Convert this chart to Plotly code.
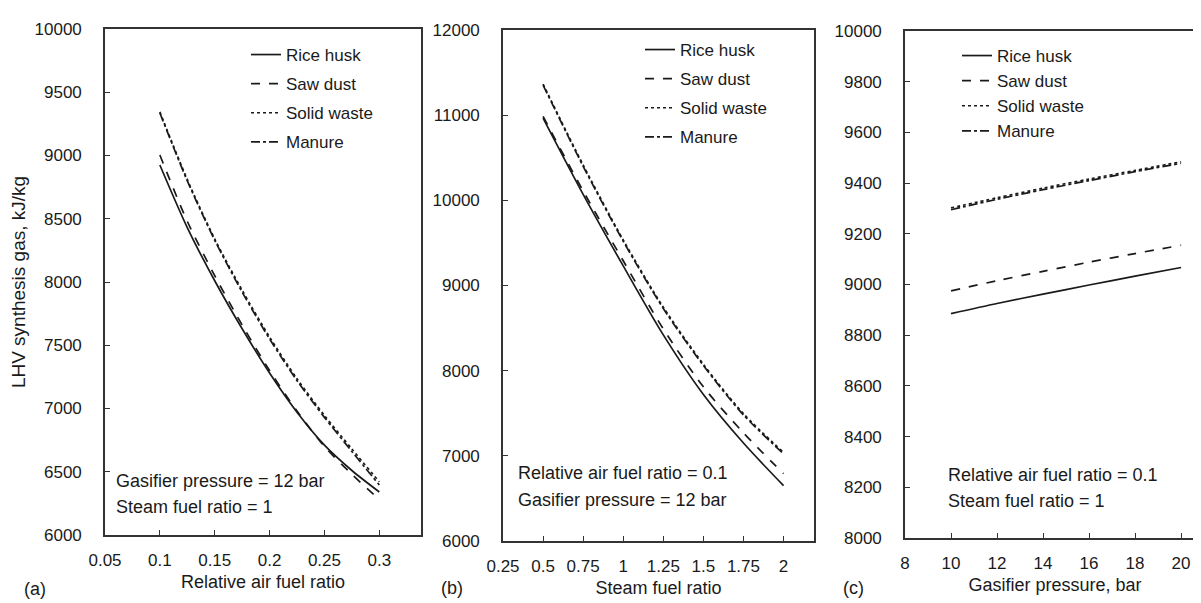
import plotly.graph_objects as go

W, H = 1201, 603
FONT = "Liberation Sans, Arial, sans-serif"
INK = "#1a1a1a"

series_names = ["Rice husk", "Saw dust", "Solid waste", "Manure"]
dash_styles = ["solid", "dash", "dot", "dashdot"]

# Panel (a): LHV vs relative air fuel ratio
air_ratio = [0.1, 0.125, 0.15, 0.175, 0.2, 0.225, 0.25, 0.275, 0.3]
a_rice = [8925, 8430, 8010, 7630, 7280, 6970, 6710, 6510, 6340]
a_saw = [9004, 8480, 8050, 7660, 7300, 6980, 6700, 6480, 6280]
a_solid = [9345, 8810, 8340, 7935, 7565, 7235, 6945, 6680, 6420]
a_manure = [9336, 8800, 8330, 7920, 7550, 7220, 6930, 6660, 6395]

# Panel (b): LHV vs steam fuel ratio
steam_ratio = [0.5, 0.75, 1.0, 1.25, 1.5, 1.75, 2.0]
b_rice = [10965, 10070, 9230, 8420, 7720, 7150, 6650]
b_saw = [10985, 10110, 9290, 8490, 7810, 7270, 6790]
b_solid = [11365, 10415, 9535, 8745, 8075, 7495, 7040]
b_manure = [11353, 10400, 9520, 8730, 8060, 7480, 7024]

# Panel (c): LHV vs gasifier pressure
pressure = [10, 12, 14, 16, 18, 20]
c_rice = [8885, 8925, 8962, 8998, 9033, 9067]
c_saw = [8975, 9015, 9052, 9088, 9122, 9155]
c_solid = [9302, 9342, 9380, 9416, 9450, 9484]
c_manure = [9295, 9336, 9374, 9410, 9445, 9478]

a_ticks = [0.05, 0.1, 0.15, 0.2, 0.25, 0.3]
a_ticktext = ["0.05", "0.1", "0.15", "0.2", "0.25", "0.3"]
b_ticks = [0.25, 0.5, 0.75, 1, 1.25, 1.5, 1.75, 2]
b_ticktext = ["0.25", "0.5", "0.75", "1", "1.25", "1.5", "1.75", "2"]
c_ticks = [8, 10, 12, 14, 16, 18, 20]
c_ticktext = ["8", "10", "12", "14", "16", "18", "20"]


def px_x(p):
    return p / W


def px_y(p):
    return 1 - p / H


fig = go.Figure()

panels = [
    ("x", "y", "legend", air_ratio, [a_rice, a_saw, a_solid, a_manure]),
    ("x2", "y2", "legend2", steam_ratio, [b_rice, b_saw, b_solid, b_manure]),
    ("x3", "y3", "legend3", pressure, [c_rice, c_saw, c_solid, c_manure]),
]
for xa, ya, lg, xs, ys_list in panels:
    for name, dash, ys in zip(series_names, dash_styles, ys_list):
        fig.add_trace(go.Scatter(
            x=xs, y=ys, mode="lines", name=name,
            line=dict(color=INK, width=1.7, dash=dash, shape="spline", smoothing=0.8),
            xaxis=xa, yaxis=ya, legend=lg, legendgroup=lg + name,
        ))

axis_common = dict(
    showgrid=False, zeroline=False, showline=True, mirror=True,
    linecolor="#333", linewidth=1.6, ticks="inside", ticklen=5,
    tickcolor="#333", tickwidth=1.4, automargin=False, tickformat="d",
    tickfont=dict(family=FONT, size=17, color=INK),
)

# panel geometry in pixels: (left, right, top, bottom)
geo_a = (97, 413, 21, 527)
geo_b = (495, 806, 22, 533)
geo_c = (897, 1197, 23, 530)


def dom(g):
    return [px_x(g[0]), px_x(g[1])], [px_y(g[3]), px_y(g[2])]


TITLE_FONT = dict(family=FONT, size=18, color=INK)

xd, yd = dom(geo_a)
fig.update_layout(
    xaxis=dict(axis_common, domain=xd, anchor="y", range=[0.05, 0.338],
               tickvals=a_ticks, ticktext=a_ticktext, ticklabelstandoff=9,
               title=dict(text="Relative air fuel ratio", standoff=6, font=TITLE_FONT)),
    yaxis=dict(axis_common, domain=yd, anchor="x", range=[6000, 10000],
               dtick=500, ticklabelstandoff=18,
               title=dict(text="LHV synthesis gas, kJ/kg", standoff=12,
                          font=dict(family=FONT, size=19, color=INK))),
)
xd, yd = dom(geo_b)
fig.update_layout(
    xaxis2=dict(axis_common, domain=xd, anchor="y2", range=[0.25, 2.19],
                tickvals=b_ticks, ticktext=b_ticktext, ticklabelstandoff=9,
                title=dict(text="Steam fuel ratio", standoff=6, font=TITLE_FONT)),
    yaxis2=dict(axis_common, domain=yd, anchor="x2", range=[6000, 12000],
                dtick=1000, ticklabelstandoff=18),
)
xd, yd = dom(geo_c)
fig.update_layout(
    xaxis3=dict(axis_common, domain=xd, anchor="y3", range=[8, 21.04],
                tickvals=c_ticks, ticktext=c_ticktext, ticklabelstandoff=9,
                title=dict(text="Gasifier pressure, bar", standoff=6, font=TITLE_FONT)),
    yaxis3=dict(axis_common, domain=yd, anchor="x3", range=[8000, 10000],
                dtick=200, ticklabelstandoff=18),
)

leg_common = dict(
    bgcolor="rgba(0,0,0,0)", borderwidth=0, xanchor="left", yanchor="top",
    font=dict(family=FONT, size=17, color=INK), traceorder="grouped",
    itemwidth=30,
)
fig.update_layout(
    legend=dict(leg_common, x=px_x(238), y=px_y(29), tracegroupgap=4),
    legend2=dict(leg_common, x=px_x(632), y=px_y(24), tracegroupgap=4),
    legend3=dict(leg_common, x=px_x(949), y=px_y(30), tracegroupgap=0),
)

notes = [
    (106, 473, "Gasifier pressure = 12 bar"),
    (106, 499, "Steam fuel ratio = 1"),
    (508, 465, "Relative air fuel ratio = 0.1"),
    (508, 492, "Gasifier pressure = 12 bar"),
    (938, 467, "Relative air fuel ratio = 0.1"),
    (938, 493, "Steam fuel ratio = 1"),
    (14, 581, "(a)"),
    (431, 580, "(b)"),
    (833, 580, "(c)"),
]
for x, y, t in notes:
    fig.add_annotation(
        x=px_x(x), y=px_y(y), xref="paper", yref="paper", text=t,
        showarrow=False, xanchor="left", yanchor="middle",
        font=dict(family=FONT, size=18, color=INK),
    )

fig.update_layout(
    width=W, height=H, margin=dict(l=0, r=0, t=0, b=0),
    paper_bgcolor="white", plot_bgcolor="white", showlegend=True,
)

fig.write_html("out.html")
